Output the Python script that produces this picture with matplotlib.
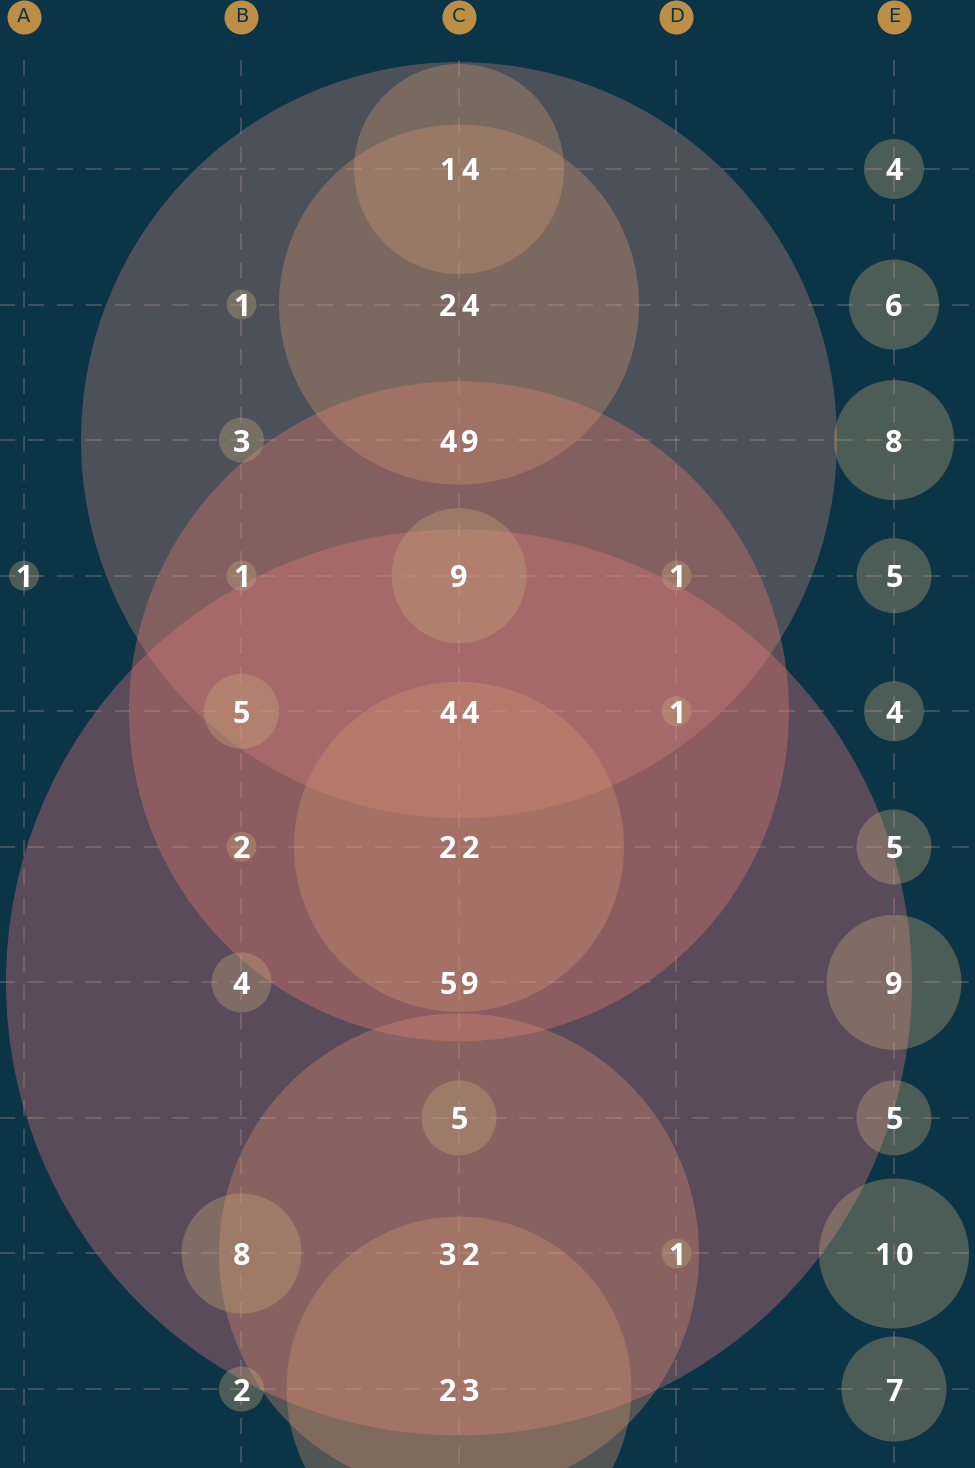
import matplotlib
matplotlib.use("Agg")
import matplotlib.pyplot as plt
import numpy as np
from matplotlib.colors import LinearSegmentedColormap

columns = ["A", "B", "C", "D", "E"]

# label values per row (0 = empty cell), columns A..E
values = [
    [0, 0, 14, 0, 4],
    [0, 1, 24, 0, 6],
    [0, 3, 49, 0, 8],
    [1, 1, 9, 1, 5],
    [0, 5, 44, 1, 4],
    [0, 2, 22, 0, 5],
    [0, 4, 59, 0, 9],
    [0, 0, 5, 0, 5],
    [0, 8, 32, 1, 10],
    [0, 2, 23, 0, 7],
]

# bubble sizes as they appear in the picture (radius ~ size)
sizes = [
    [0, 0, 14, 0, 4],
    [0, 2, 24, 0, 6],
    [0, 3, 50.4, 0, 8],
    [2, 2, 9, 2, 5],
    [0, 5, 44, 2, 4],
    [0, 2, 22, 0, 5],
    [0, 4, 60.4, 0, 9],
    [0, 0, 5, 0, 5],
    [0, 8, 32, 2, 10],
    [0, 3, 23, 0, 7],
]

bg = "#0b3447"
gold = "#bd8e45"
cmap = LinearSegmentedColormap.from_list(
    "bub", [(0.0, "#c8ac78"), (0.17, "#c8aa77"), (0.24, "#cf9a71"),
            (0.4, "#d4966f"), (0.55, "#de8e70"), (0.745, "#f07c6f"),
            (0.83, "#c5867d"), (1.0, "#ed7880")])

dpi = 100
fig = plt.figure(figsize=(9.75, 14.68), dpi=dpi, facecolor=bg)
ax = fig.add_axes([0, 0, 1, 1])
ax.set_facecolor(bg)
ax.set_axis_off()

# pixel layout: col 0 at x=24, step 217.5 ; row 0 at y=169, step 135.56
xs, ys = 217.5, 135.56
ax.set_xlim(-24 / xs, (975 - 24) / xs)
ax.set_ylim((1468 - 169) / ys, -169 / ys)

n_rows = len(values)
ncol = len(columns)

# grid
for j in range(ncol):
    ax.plot([j, j], [-(169 - 60) / ys, n_rows], color="#c8a09a", alpha=0.3,
            lw=1.3, ls=(0, (9, 7)), zorder=3)
for i in range(n_rows):
    ax.plot([-1, ncol + 1], [i, i], color="#c8a09a", alpha=0.3,
            lw=1.3, ls=(0, (9, 7)), zorder=3)

px_to_pt = 72 / dpi
cells = [(sizes[i][j], i, j) for i in range(n_rows) for j in range(ncol)
         if sizes[i][j] > 0]
cells.sort(key=lambda c: -c[0])  # big bubbles first, small ones on top
bx = [c[2] for c in cells]
by = [c[1] for c in cells]
bs = [(2 * 7.5 * c[0] * px_to_pt) ** 2 for c in cells]
bc = [cmap(min(values[c[1]][c[2]] / 59, 1.0)) for c in cells]
ax.scatter(bx, by, s=bs, c=bc, alpha=0.35, linewidths=0, zorder=2)

track = 16  # points between digit centres
for i in range(n_rows):
    for j in range(ncol):
        v = values[i][j]
        if v <= 0:
            continue
        txt = str(v)
        n = len(txt)
        for k, ch in enumerate(txt):
            off = (k - (n - 1) / 2) * track
            ax.annotate(ch, (j, i), xytext=(off, 0), textcoords="offset points",
                        ha="center", va="center_baseline", color="white",
                        fontsize=22, fontweight="bold",
                        family=["Open Sans", "DejaVu Sans"], zorder=5)

# column headers
hy = -(169 - 17) / ys
ax.scatter(range(ncol), [hy] * ncol, s=(2 * 17 * px_to_pt) ** 2, c=gold,
           linewidths=0, zorder=6, clip_on=False)
for j, name in enumerate(columns):
    ax.text(j, hy, name, ha="center", va="center", color=bg, fontsize=14,
            family=["Liberation Sans Narrow", "DejaVu Sans"], zorder=7)

fig.savefig("out.png", dpi=dpi, facecolor=bg)
